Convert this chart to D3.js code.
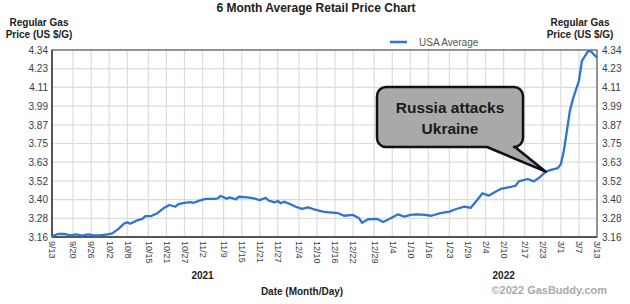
<!DOCTYPE html>
<html>
<head>
<meta charset="utf-8">
<script src="https://cdn.jsdelivr.net/npm/d3@7"></script>
<style>
  body { margin: 0; background: #fff; }
  text { font-family: "Liberation Sans", Arial, sans-serif; }
</style>
</head>
<body>
<div id="chart"></div>
<script>
// data
const dates = ["2021-09-13","2021-09-15","2021-09-17","2021-09-19","2021-09-21","2021-09-23","2021-09-25","2021-09-27","2021-09-29",
  "2021-10-02","2021-10-03","2021-10-05","2021-10-07","2021-10-08","2021-10-09","2021-10-11","2021-10-13","2021-10-14","2021-10-16",
  "2021-10-18","2021-10-20","2021-10-22","2021-10-24","2021-10-25","2021-10-27","2021-10-29","2021-10-30","2021-11-01","2021-11-03",
  "2021-11-06","2021-11-07","2021-11-08","2021-11-10","2021-11-11","2021-11-13","2021-11-14","2021-11-17","2021-11-19","2021-11-21",
  "2021-11-23","2021-11-24","2021-11-26","2021-11-27","2021-11-28","2021-11-29","2021-12-01","2021-12-03","2021-12-05","2021-12-07",
  "2021-12-09","2021-12-12","2021-12-14","2021-12-17","2021-12-19","2021-12-22","2021-12-24","2021-12-25","2021-12-27","2021-12-30",
  "2022-01-01","2022-01-03","2022-01-06","2022-01-08","2022-01-10","2022-01-12","2022-01-14","2022-01-17","2022-01-20","2022-01-23",
  "2022-01-25","2022-01-28","2022-01-30","2022-02-01","2022-02-03","2022-02-05","2022-02-07","2022-02-09","2022-02-12","2022-02-14",
  "2022-02-15","2022-02-18","2022-02-20","2022-02-22","2022-02-24","2022-02-26","2022-02-28","2022-03-01","2022-03-02","2022-03-03",
  "2022-03-04","2022-03-05","2022-03-07","2022-03-08","2022-03-10","2022-03-11","2022-03-12","2022-03-13"];
const prices = [3.166,3.179,3.180,3.170,3.177,3.168,3.177,3.170,3.170,
  3.178,3.183,3.210,3.246,3.252,3.244,3.263,3.274,3.292,3.292,
  3.310,3.341,3.362,3.351,3.368,3.376,3.380,3.376,3.389,3.400,
  3.400,3.404,3.419,3.402,3.410,3.398,3.414,3.410,3.404,3.393,
  3.408,3.389,3.379,3.387,3.373,3.383,3.368,3.351,3.337,3.347,
  3.335,3.320,3.316,3.310,3.294,3.299,3.278,3.250,3.272,3.274,
  3.255,3.274,3.303,3.288,3.299,3.303,3.301,3.294,3.310,3.320,
  3.335,3.351,3.343,3.389,3.436,3.421,3.442,3.463,3.474,3.484,
  3.511,3.526,3.511,3.537,3.572,3.585,3.595,3.620,3.705,3.830,
  3.957,4.030,4.146,4.272,4.332,4.332,4.310,4.294];

const xTickDates = ["2021-09-13","2021-09-20","2021-09-26","2021-10-02","2021-10-08","2021-10-15","2021-10-21","2021-10-27",
  "2021-11-02","2021-11-09","2021-11-15","2021-11-21","2021-11-27","2021-12-04","2021-12-10","2021-12-16","2021-12-22",
  "2021-12-29","2022-01-04","2022-01-10","2022-01-16","2022-01-23","2022-01-29","2022-02-04","2022-02-10","2022-02-17",
  "2022-02-23","2022-03-01","2022-03-07","2022-03-13"];
const yTickLabels = ["3.16","3.28","3.40","3.52","3.63","3.75","3.87","3.99","4.11","4.23","4.34"];
const yearLabels = [{year: "2021", date: "2021-11-02"}, {year: "2022", date: "2022-02-10"}];
const eventDate = "2022-02-24";

const parse = d3.timeParse("%Y-%m-%d");
const fmt = d3.timeFormat("%-m/%-d");
const data = dates.map((d, i) => ({date: parse(d), value: prices[i]}));

const W = 630, H = 304;
const margin = {top: 50, right: 33, bottom: 67, left: 52};

const svg = d3.select("#chart").append("svg")
  .attr("width", W).attr("height", H);

const x = d3.scaleTime()
  .domain([parse("2021-09-13"), parse("2022-03-13")])
  .range([margin.left, W - margin.right]);
const y = d3.scaleLinear()
  .domain([3.16, 4.34])
  .range([H - margin.bottom, margin.top]);

const yTicks = yTickLabels.map((l, i) => 3.16 + i * (4.34 - 3.16) / (yTickLabels.length - 1));
const xTicks = xTickDates.map(parse);

// grid
svg.append("g").selectAll("line.h").data(yTicks).join("line")
  .attr("x1", margin.left).attr("x2", W - margin.right)
  .attr("y1", d => y(d)).attr("y2", d => y(d))
  .attr("stroke", "#dcdcdc").attr("stroke-width", 1.2);
svg.append("g").selectAll("line.v").data(xTicks).join("line")
  .attr("x1", d => x(d)).attr("x2", d => x(d))
  .attr("y1", margin.top).attr("y2", H - margin.bottom)
  .attr("stroke", "#dcdcdc").attr("stroke-width", 1.2);

// frame
svg.append("rect")
  .attr("x", margin.left).attr("y", margin.top)
  .attr("width", W - margin.left - margin.right)
  .attr("height", H - margin.top - margin.bottom)
  .attr("fill", "none").attr("stroke", "#666").attr("stroke-width", 1.3);
svg.append("line")
  .attr("x1", margin.left).attr("x2", W - margin.right)
  .attr("y1", H - margin.bottom).attr("y2", H - margin.bottom)
  .attr("stroke", "#555").attr("stroke-width", 2);
svg.append("line")
  .attr("x1", margin.left).attr("x2", margin.left)
  .attr("y1", margin.top).attr("y2", H - margin.bottom)
  .attr("stroke", "#555").attr("stroke-width", 2);

// y axes, both sides
const yAxisL = d3.axisLeft(y).tickValues(yTicks).tickSize(0).tickPadding(4)
  .tickFormat((d, i) => yTickLabels[i]);
const yAxisR = d3.axisRight(y).tickValues(yTicks).tickSize(0).tickPadding(5)
  .tickFormat((d, i) => yTickLabels[i]);
const gl = svg.append("g").attr("transform", `translate(${margin.left},0)`).call(yAxisL);
const gr = svg.append("g").attr("transform", `translate(${W - margin.right},0)`).call(yAxisR);
[gl, gr].forEach(g => {
  g.select(".domain").remove();
  g.selectAll("text").attr("font-size", 10).attr("fill", "#3a3a4a")
    .attr("font-family", "Liberation Sans, Arial, sans-serif");
});

// x axis, rotated labels
const xAxis = d3.axisBottom(x).tickValues(xTicks).tickSize(0).tickFormat(fmt);
const gx = svg.append("g").attr("transform", `translate(0,${H - margin.bottom})`).call(xAxis);
gx.select(".domain").remove();
gx.selectAll("text")
  .attr("font-size", 9).attr("fill", "#3a3a4a")
  .attr("font-family", "Liberation Sans, Arial, sans-serif")
  .attr("text-anchor", "start")
  .attr("transform", "rotate(90)")
  .attr("x", 4).attr("y", 0).attr("dy", "0.35em");

// year labels
svg.selectAll("text.year").data(yearLabels).join("text")
  .attr("x", d => x(parse(d.date))).attr("y", 279)
  .attr("text-anchor", "middle").attr("font-size", 10).attr("font-weight", "bold")
  .attr("fill", "#222").text(d => d.year);

// line
svg.append("path")
  .datum(data)
  .attr("fill", "none")
  .attr("stroke", "#2f74d0")
  .attr("stroke-width", 2.3)
  .attr("stroke-linejoin", "round")
  .attr("d", d3.line().x(d => x(d.date)).y(d => y(d.value)));

// titles
svg.append("text").attr("x", 316).attr("y", 12).attr("text-anchor", "middle")
  .attr("font-size", 12).attr("font-weight", "bold").attr("fill", "#222")
  .text("6 Month Average Retail Price Chart");

[39, 580].forEach(cx => {
  svg.append("text").attr("x", cx).attr("y", 26).attr("text-anchor", "middle")
    .attr("font-size", 10).attr("font-weight", "bold").attr("fill", "#222").text("Regular Gas");
  svg.append("text").attr("x", cx).attr("y", 38).attr("text-anchor", "middle")
    .attr("font-size", 10).attr("font-weight", "bold").attr("fill", "#222").text("Price (US $/G)");
});

// legend
svg.append("line").attr("x1", 390).attr("x2", 407).attr("y1", 42).attr("y2", 42)
  .attr("stroke", "#2f74d0").attr("stroke-width", 2.5);
svg.append("text").attr("x", 419).attr("y", 45.5).attr("font-size", 10)
  .attr("fill", "#555").text("USA Average");

svg.append("text").attr("x", 302).attr("y", 295).attr("text-anchor", "middle")
  .attr("font-size", 10).attr("font-weight", "bold").attr("fill", "#222")
  .text("Date (Month/Day)");
svg.append("text").attr("x", 607).attr("y", 294).attr("text-anchor", "end")
  .attr("font-size", 11).attr("font-weight", "bold").attr("fill", "#aaa")
  .text("©2022 GasBuddy.com");

// callout
const tipX = x(parse(eventDate));
const tipY = y(prices[dates.indexOf(eventDate)]);
const bx0 = 377, bx1 = 523, by0 = 87, by1 = 147, r = 9;
const callout = d3.path();
callout.moveTo(bx0 + r, by0);
callout.lineTo(bx1 - r, by0);
callout.arcTo(bx1, by0, bx1, by0 + r, r);
callout.lineTo(bx1, by1 - r);
callout.arcTo(bx1, by1, bx1 - r, by1, r);
callout.lineTo(515, by1);
callout.lineTo(tipX, tipY);
callout.lineTo(487, by1);
callout.lineTo(bx0 + r, by1);
callout.arcTo(bx0, by1, bx0, by1 - r, r);
callout.lineTo(bx0, by0 + r);
callout.arcTo(bx0, by0, bx0 + r, by0, r);
callout.closePath();
svg.append("path").attr("d", callout.toString())
  .attr("fill", "#a9a9a9").attr("stroke", "#111").attr("stroke-width", 2.5)
  .attr("stroke-linejoin", "round");
svg.append("text").attr("x", 450).attr("y", 113).attr("text-anchor", "middle")
  .attr("font-size", 15.5).attr("font-weight", "bold").attr("fill", "#1a1a1a")
  .text("Russia attacks");
svg.append("text").attr("x", 450).attr("y", 134).attr("text-anchor", "middle")
  .attr("font-size", 15.5).attr("font-weight", "bold").attr("fill", "#1a1a1a")
  .text("Ukraine");
</script>
</body>
</html>
